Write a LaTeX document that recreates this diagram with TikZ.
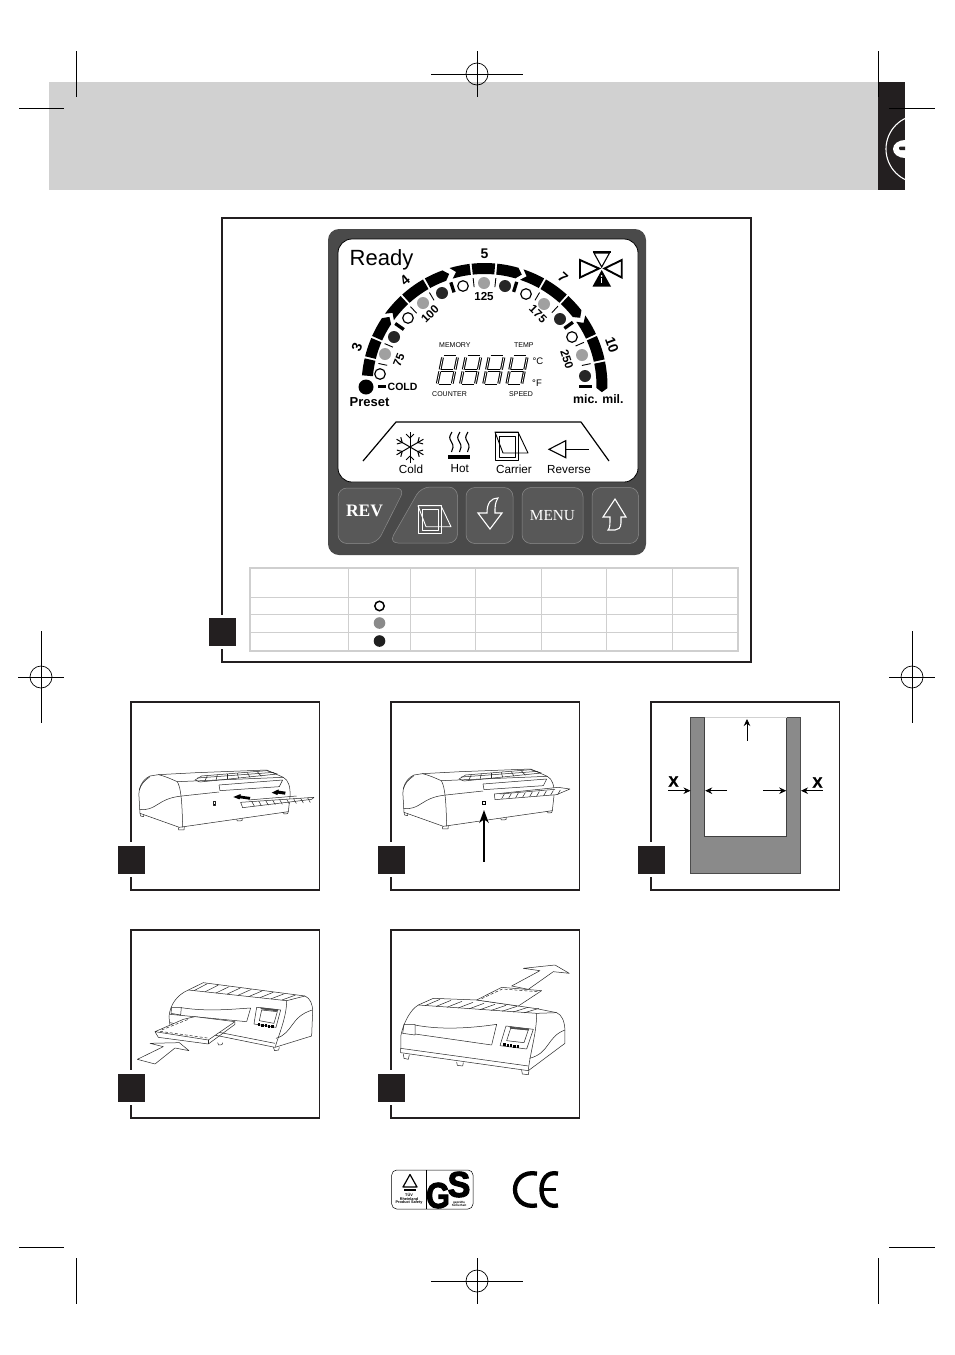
\documentclass[tikz,border=0pt]{standalone}
\usepackage{fontspec}
\setmainfont{Liberation Sans}
\newfontfamily\timesf{Liberation Serif}
\newfontfamily\fatf[FakeBold=1.5]{Liberation Sans Bold}
\newfontfamily\logof[FakeBold=3]{Liberation Sans Bold}
\usetikzlibrary{arrows.meta}
\definecolor{band}{HTML}{D1D1D1}
\definecolor{tabk}{HTML}{231F20}
\definecolor{panel}{HTML}{4A4A4A}
\definecolor{btn}{HTML}{585858}
\definecolor{btnl}{HTML}{8C8C8C}
\definecolor{dotg}{HTML}{A0A0A0}
\definecolor{tbl}{HTML}{CFCFCF}
\definecolor{cutg}{HTML}{8A8A8A}
\tikzset{
  crop/.style={line width=.7pt,black},
  frame/.style={line width=1.8pt,tabk},
  tag/.style={fill=tabk,draw=none},
  halo/.style={fill=white,draw=none},
  btnshape/.style={fill=btn,draw=btnl,line width=.5pt,rounded corners=9pt},
  lcd/.style={font=\fontsize{7}{8}\selectfont,inner sep=0pt},
  bold/.style={font=\bfseries\fontsize{#1}{#1}\selectfont,inner sep=0pt},
  reg/.style={font=\fontsize{#1}{#1}\selectfont,inner sep=0pt},
  seven/.style={line width=1.05pt,double=white,double distance=.7pt},
  pl/.style={line width=.5pt,black!85,line join=round},
  zoomed/.style={x=.3333pt,y=-.3333pt},
  dimarrow/.style={line width=.8pt,-{Stealth[length=7pt,width=6.5pt]}},
}
\newcommand\regmark[2]{%
  \draw[crop] (#1,#2) circle (11);
  \draw[crop] (#1-46,#2) -- (#1+46,#2);
  \draw[crop] (#1,#2-23) -- (#1,#2+23);}
\newcommand\regmarkv[2]{%
  \draw[crop] (#1,#2) circle (11);
  \draw[crop] (#1-23,#2) -- (#1+23,#2);
  \draw[crop] (#1,#2-46) -- (#1,#2+46);}
\newcommand\digit[1]{%
  \begin{scope}[shift={(#1,385)},xslant=.2]
    \draw[seven] (1.5,0) -- (13.5,0);
    \draw[seven] (1.5,-14.5) -- (13.5,-14.5);
    \draw[seven] (1.5,-29) -- (13.5,-29);
    \draw[seven] (0,-1.5) -- (0,-13.5);
    \draw[seven] (15,-1.5) -- (15,-13.5);
    \draw[seven] (0,-15.5) -- (0,-27.5);
    \draw[seven] (15,-15.5) -- (15,-27.5);
  \end{scope}}
\newcommand\carrier[1]{%
  \draw[line width=.9pt,#1,line join=round] (495,432) rectangle (518,460);
  \draw[line width=.9pt,#1,line join=round] (499,436) rectangle (515,457);
  \draw[line width=.9pt,#1,line join=round] (495,432) -- (518,432) -- (528,453) -- (503,453) -- cycle;}
\newcommand\bodyA{%
  \draw[pl,fill=white] (90,228) .. controls (65,240) and (55,265) .. (57,290) -- (60,340) -- (178,382) -- (505,335) -- (510,290) .. controls (512,260) and (505,240) .. (490,232) -- (440,210) -- (230,218) -- (115,224) -- cycle;
  \draw[pl] (115,224) .. controls (140,230) and (155,238) .. (172,245) -- (490,232);
  \draw[pl] (172,245) .. controls (183,265) and (186,300) .. (188,382);
  \draw[pl] (58,328) .. controls (110,335) and (110,295) .. (186,288) -- (297,276);
  \draw[pl] (90,230) .. controls (72,242) and (62,255) .. (58,270);
  \draw[pl] (225,240) -- (245,228) -- (440,212) -- (472,222) -- (240,246) -- cycle;
  \foreach \k in {0,1,...,5} \draw[pl] ({262+\k*30},{227-\k*2.4}) -- ({254+\k*34},{244-\k*3});
  \draw[pl] (232,234) -- (462,217);
  \draw[pl] (297,255) -- (300,272) -- (478,260) -- (488,240) -- cycle;
  \draw[pl] (60,340) -- (62,348) -- (70,350) -- (72,345);
  \draw[pl] (175,382) -- (176,390) -- (192,390) -- (193,380);
  \draw[pl] (350,358) -- (352,363) -- (366,362) -- (367,356);
  \draw[pl] (490,337) -- (492,342) -- (503,341) -- (505,335);}
\newcommand\ribs[6]{% x0,y0,dx,dy,n,len
  \foreach \k in {0,...,#5} \draw[pl] ({#1+\k*#3},{#2+\k*#4}) -- ++(8,#6);}
\begin{document}
\begin{tikzpicture}[x=1pt,y=-1pt]
\useasboundingbox (0,0) rectangle (954,1355);
\fill[white] (0,0) rectangle (954,1355);
% header band and tab
\fill[band] (49,82) rectangle (878,190);
\fill[tabk] (878,82) rectangle (905,190);
\begin{scope}
  \clip (878,82) rectangle (905,190);
  \draw[white,line width=1.1pt] (920,149) circle (34);
  \fill[white] (905,149) ellipse (12 and 9);
  \fill[tabk,rounded corners=1pt] (899,146.5) rectangle (906,150);
\end{scope}
% crop marks
\draw[crop] (76,51) -- (76,97);
\draw[crop] (19,108) -- (64,108);
\draw[crop] (878,51) -- (878,97);
\draw[crop] (889,108) -- (935,108);
\draw[crop] (19,1247) -- (64,1247);
\draw[crop] (76,1258) -- (76,1304);
\draw[crop] (889,1247) -- (935,1247);
\draw[crop] (878,1258) -- (878,1304);
\regmark{477}{74}
\regmark{477}{1281}
\regmarkv{41}{677}
\regmarkv{912}{677}
% main frame
\draw[frame] (222,218) rectangle (751,662);
\fill[halo] (205,615) rectangle (240,649);
\fill[tag] (209,618) rectangle (236,646);
% panel
\fill[panel,rounded corners=11pt] (328,229) rectangle (646,555);
\draw[fill=white,draw=black,line width=.8pt,rounded corners=14pt] (338,239) rectangle (638,482);
\node[reg=22,anchor=west] (ready) at (349.5,260) {Ready};
% hourglass
\draw[line width=2pt] (592.5,252) -- (611,252);
\draw[line width=1.1pt,fill=white] (594,253) -- (609.5,253) -- (601.7,267) -- cycle;
\fill (592.5,286.5) -- (611,286.5) -- (601.7,270) -- cycle;
\fill[white] (601.7,276) circle (1);
\draw[white,line width=.8pt] (601.7,278) -- (601.7,283);
\draw[line width=1.9pt,line join=miter] (580,260) -- (580,277.5) -- (599,268.5) -- cycle;
\draw[line width=1.9pt,line join=miter] (621.7,260) -- (621.7,277.5) -- (604.5,268.5) -- cycle;
% segmented arc: start angle / end angle / tip / notch
\foreach \sa/\sb/\se/\sn in {175/167/0/0,166/157/0/0,156/146.5/2.5/0,144/133/0/2.5,132/120/0/0,119/110/2.5/0,106.5/97/0/2.5,96/85/0/0,84/74/2.5/0,71.5/61/0/2.5,60/48/0/0,47/38/2.5/0,35/25/0/2.5,24/12.5/0/0,11.5/-1/2/0}{
  \fill plot[domain=\sa:\sb,samples=6] ({484.5+123*cos(\x)},{386-123*sin(\x)})
    -- ({484.5+117.5*cos(\sb-\se)},{386-117.5*sin(\sb-\se)})
    -- plot[domain=\sb:\sa,samples=6] ({484.5+112*cos(\x)},{386-112*sin(\x)})
    -- ({484.5+117.5*cos(\sa-\sn)},{386-117.5*sin(\sa-\sn)}) -- cycle;
}
% ticks
\foreach \a in {168,157,133,120.5,96,84,59.5,47.4,23.7,11.9}
  \draw[line width=.9pt] ({484.5+99.5*cos(\a)},{386-99.5*sin(\a)}) -- ({484.5+108.5*cos(\a)},{386-108.5*sin(\a)});
\foreach \a in {145,108,72.8,35.8}
  \draw[line width=3.3pt] ({484.5+98.5*cos(\a)},{386-98.5*sin(\a)}) -- ({484.5+109*cos(\a)},{386-109*sin(\a)});
\draw[line width=3.3pt] (378,386.7) -- (386,386.7);
\draw[line width=3.3pt] (579,386.7) -- (592,386.7);
% dots
\foreach \x/\y in {380/374,408/318,463/286,526/294,572/337}
  \draw[line width=1.2pt,fill=white] (\x,\y) circle (5.3);
\foreach \x/\y in {385/354,423/303,484/283,544/304,582/355}
  \fill[dotg] (\x,\y) circle (6);
\foreach \x/\y in {394/337,442/293,505/286,560/319,585/376}
  \fill[black!85] (\x,\y) circle (6);
\fill (366,387) circle (7.5);
% scale numerals
\node[bold=14,rotate=70] (n3) at (357,347) {3};
\node[bold=14,rotate=40] (n4) at (405,280) {4};
\node[bold=14] (n5) at (484.5,254) {5};
\node[bold=14,rotate=-42] (n7) at (563,278) {7};
\node[bold=14,rotate=-70] (n10) at (612,345) {10};
\node[bold=11.6] (t125) at (484,297) {125};
\node[bold=11.6,rotate=45] (t100) at (430,314) {100};
\node[bold=11.6,rotate=68] (t75) at (399,360) {75};
\node[bold=11.6,rotate=-45] (t175) at (538,314) {175};
\node[bold=11.6,rotate=-72] (t250) at (567,359) {250};
\node[bold=10.5,anchor=west] (cold) at (387.5,386.7) {COLD};
\node[bold=13,anchor=west] (preset) at (349.5,402) {Preset};
\node[bold=12.3,anchor=west] (micmil) at (573,399.5) {mic. mil.};
\node[lcd,anchor=west] (memory) at (439,345) {MEMORY};
\node[lcd,anchor=west] (temp) at (514,345) {TEMP};
\node[lcd,anchor=west] (counter) at (432,394.5) {COUNTER};
\node[lcd,anchor=west] (speed) at (509,394.5) {SPEED};
\node[reg=9.5] (degc) at (538,361) {°C};
\node[reg=9.5] (degf) at (537,383) {°F};
\digit{437}\digit{460.2}\digit{483.4}\digit{506.6}
% mode strip
\draw[line width=1.2pt,line join=round] (363,461) -- (396,422) -- (581,422) -- (609,461);
% snowflake
\foreach \a in {30,90,150,210,270,330}{
  \draw[line width=1pt] (410,447) -- ++({15.5*cos(\a)},{15.5*sin(\a)});
  \draw[line width=1pt] ({410+9*cos(\a)},{447+9*sin(\a)}) -- ++({5.5*cos(\a+45)},{5.5*sin(\a+45)});
  \draw[line width=1pt] ({410+9*cos(\a)},{447+9*sin(\a)}) -- ++({5.5*cos(\a-45)},{5.5*sin(\a-45)});
}
\node[reg=11.7] (lcold) at (411,469) {Cold};
% hot
\foreach \x in {452,460,468}
  \draw[line width=1.1pt] (\x,432) .. controls (\x-3,437) and (\x-3,438) .. (\x-.5,442) .. controls (\x+2,446) and (\x+1,449) .. (\x-.5,452);
\fill (448,455) rectangle (470,459);
\node[reg=11.7] (lhot) at (459.7,469) {Hot};
% carrier
\carrier{black}
\node[reg=11.7] (lcarrier) at (514,469) {Carrier};
% reverse arrow
\draw[line width=1.1pt,line join=miter] (549,449.3) -- (565.7,440.7) -- (565.7,457.7) -- cycle;
\draw[line width=1.1pt] (565.7,449.3) -- (589,449.3);
\node[reg=11.7] (lreverse) at (569,470) {Reverse};
% buttons
\draw[btnshape] (338,488) -- (405,488) -- (377,543.5) -- (338,543.5) -- cycle;
\node[font=\timesf\bfseries\fontsize{17.5}{17.5}\selectfont,text=white,inner sep=0pt] (rev) at (364.5,511) {REV};
\draw[btnshape] (421,487) -- (457.5,487) -- (457.5,543) -- (389,543) -- cycle;
\begin{scope}[shift={(-77,73.7)}]\carrier{white}\end{scope}
\draw[btnshape] (466,487.5) rectangle (513,543.5);
\draw[white,line width=1.1pt,line join=miter] (498,498) .. controls (491,498) and (487,503) .. (487,513) -- (478,513) -- (490,529) -- (502,513) -- (495,513) .. controls (495,506) and (495,503) .. (498,498) -- cycle;
\draw[btnshape] (522,487.5) rectangle (583,543.5);
\node[font=\timesf\fontsize{15.3}{15.3}\selectfont,text=white,inner sep=0pt] (menu) at (552.5,515.7) {MENU};
\draw[btnshape] (592,487.5) rectangle (638.5,543.5);
\draw[white,line width=1.1pt,line join=miter] (615,499) -- (626,517) -- (621,517) -- (621,523) .. controls (621,528) and (618,530) .. (615,530) -- (608,530) .. controls (610,528) and (610,525) .. (610,517) -- (603,517) -- cycle;
% table
\draw[tbl,line width=.9pt] (250,597) -- (738,597) (250,614) -- (738,614) (250,632) -- (738,632);
\foreach \x in {348,410,475.5,541,606.5,672} \draw[tbl,line width=.9pt] (\x,568) -- (\x,651);
\draw[tbl,line width=1.7pt] (250,568) rectangle (738,651);
\draw[line width=1.5pt,fill=white] (379.5,606) circle (4.7);
\fill[cutg] (379.5,623) circle (5.8);
\fill[black!88] (379.5,641) circle (5.8);
% small frames
\foreach \fx/\fy in {131/702,391/702,651/702,131/930,391/930}{
  \draw[frame] (\fx,\fy) rectangle (\fx+188.5,\fy+188);
  \fill[halo] (\fx-15,\fy+140) rectangle (\fx+16,\fy+175);
  \fill[tag] (\fx-13.5,\fy+144) rectangle (\fx+14,\fy+172);
}
% printer 1
\begin{scope}[shift={(120,700)},zoomed]
  \bodyA
  \draw[pl,fill=white] (362,307) -- (368,323) -- (575,298) -- (582,292) -- cycle;
  \ribs{395}{304}{21}{-1.3}{8}{14}
  \draw[pl] (385,300) -- (530,288);
  \draw[pl,fill=black,line width=.9pt] (279,304) rectangle (287,316);
  \fill[white] (281.5,307) rectangle (284.5,312);
  \fill (340,291) -- (362,282) -- (362,287) -- (391,291) -- (389,299) -- (361,295) -- (358,298) -- cycle;
  \fill (455,278) -- (476,268) -- (476,272) -- (497,275) -- (495,284) -- (474,281) -- (472,285) -- cycle;
\end{scope}
% printer 2
\begin{scope}[shift={(384,699)},zoomed]
  \bodyA
\end{scope}
\begin{scope}[shift={(380,700)},zoomed]
  \draw[pl,fill=white] (343,282) -- (345,299) -- (530,284) -- (570,267) -- (535,262) -- cycle;
  \ribs{365}{296}{21}{-1.5}{8}{-14}
  \draw[pl] (360,282) -- (525,268);
  \draw[line width=1pt,fill=white] (307,304) rectangle (316,313);
\end{scope}
\coordinate (a2tail) at (484,861.5);
\coordinate (a2head) at (484,810);
\draw[line width=1.6pt,-{Stealth[length=13pt,width=9.5pt]}] (a2tail) -- (a2head);
% sheet in pouch
\fill[cutg,draw=black!70,line width=.5pt] (690.7,717.7) rectangle (800.7,873.3);
\fill[white] (704.7,717.7) rectangle (786.7,836);
\draw[black!75,line width=.7pt] (704.7,717.7) -- (704.7,836) -- (786.7,836) -- (786.7,717.7);
\draw[band,line width=.6pt] (704.7,717.7) -- (786.7,717.7);
\coordinate (u0) at (747,740.7); \coordinate (u1) at (747,719);
\coordinate (l0) at (668.3,790.7); \coordinate (l1) at (690.5,790.7);
\coordinate (il0) at (727,790.7); \coordinate (il1) at (705.2,790.7);
\coordinate (ir0) at (763,790.7); \coordinate (ir1) at (786.2,790.7);
\coordinate (r0) at (822.7,790.7); \coordinate (r1) at (801,790.7);
\foreach \p/\q in {u0/u1,l0/l1,il0/il1,ir0/ir1,r0/r1}
  \draw[dimarrow] (\p) -- (\q);
\node[font=\fatf\fontsize{15}{15}\selectfont,inner sep=0pt] (xl) at (673.5,781.5) {X};
\node[font=\fatf\fontsize{15}{15}\selectfont,inner sep=0pt] (xr) at (817.5,782.5) {X};
% printer 4
\begin{scope}[shift={(120,930)},zoomed]
  \draw[pl,fill=white] (205,180) .. controls (170,195) and (150,225) .. (147,260) -- (150,288) -- (465,352) -- (575,318) -- (578,245) .. controls (578,220) and (570,205) .. (555,198) -- (250,158) -- cycle;
  \draw[pl] (205,180) -- (500,212) -- (555,198);
  \foreach \k in {0,...,8} \draw[pl] ({262+\k*33},{161+\k*4.3}) -- ({222+\k*33},{182+\k*3.5});
  \draw[pl] (155,232) -- (184,232) -- (182,255) -- (153,250) -- cycle;
  \draw[pl] (184,233) .. controls (260,245) and (330,238) .. (392,234) -- (380,275);
  \draw[pl] (150,253) -- (380,275);
  \draw[pl] (150,278) -- (465,340);
  \draw[pl] (500,212) .. controls (500,260) and (478,310) .. (466,350);
  \draw[pl] (468,325) .. controls (520,310) and (510,260) .. (577,240);
  \draw[pl] (410,232) -- (482,240) -- (468,292) -- (402,282) -- cycle;
  \draw[pl] (425,240) -- (472,245) -- (462,280) -- (418,272) -- cycle;
  \fill[black!70] (420,232) -- (475,238) -- (473,244) -- (424,238) -- cycle;
  \foreach \k in {0,...,4} \fill ({414+\k*10},{279+\k*1.5}) rectangle ++(7,9);
  \draw[pl] (460,352) -- (464,362) -- (476,360) -- (478,352);
  \draw[pl] (293,338) -- (296,345) -- (306,344) -- (308,338);
  \draw[pl,fill=white] (105,305) -- (190,268) -- (225,260) -- (345,275) -- (265,330) -- cycle;
  \draw[pl] (105,305) -- (115,322) -- (265,342) -- (345,283) -- (345,275);
  \draw[pl] (265,330) -- (265,342);
  \draw[pl,densely dashed] (120,304) -- (262,324);
  \draw[pl,densely dashed] (125,300) -- (205,268);
  \draw[pl,fill=white] (52,388) -- (130,350) -- (90,340) -- (178,338) -- (207,362) -- (165,354) -- (105,402) -- cycle;
\end{scope}
% printer 5
\begin{scope}[shift={(380,930)},zoomed]
  \draw[pl,fill=white] (115,225) .. controls (90,240) and (70,280) .. (63,315) -- (62,368) -- (445,422) -- (555,340) -- (555,300) .. controls (553,270) and (545,255) .. (530,248) -- (470,236) -- (290,210) -- (160,205) -- cycle;
  \draw[pl] (115,225) -- (470,250) -- (530,248);
  \foreach \k in {0,...,9} \draw[pl] ({180+\k*33},{208+\k*3}) -- ({135+\k*33},{227+\k*2.4});
  \draw[pl] (72,283) -- (105,283) -- (105,315) -- (68,310) -- cycle;
  \draw[pl] (105,285) .. controls (180,300) and (270,295) .. (350,283) -- (335,345);
  \draw[pl] (105,312) -- (335,345);
  \draw[pl] (62,355) -- (445,408);
  \draw[pl] (470,250) .. controls (470,310) and (452,360) .. (445,420);
  \draw[pl] (448,385) .. controls (510,370) and (500,320) .. (555,300);
  \draw[pl] (378,288) -- (460,298) -- (440,357) -- (360,347) -- cycle;
  \draw[pl] (392,295) -- (445,300) -- (432,338) -- (380,332) -- cycle;
  \fill[black!70] (388,290) -- (448,296) -- (446,301) -- (392,296) -- cycle;
  \foreach \k in {0,...,4} \fill ({370+\k*10},{339+\k*1.5}) rectangle ++(7,9);
  \draw[pl] (70,372) -- (72,385) -- (85,388) -- (88,374);
  \draw[pl] (230,396) -- (232,406) -- (248,408) -- (250,398);
  \draw[pl] (425,420) -- (427,432) -- (445,434) -- (447,422);
  \draw[pl,fill=white] (290,210) -- (365,172) -- (485,182) -- (415,228) -- cycle;
  \draw[pl,densely dashed] (305,206) -- (367,177) -- (472,185);
  \draw[pl,fill=white] (395,168) -- (480,122) -- (430,115) -- (525,105) -- (568,130) -- (520,125) -- (445,178) -- cycle;
\end{scope}
% logos
\draw[line width=.5pt,rounded corners=5pt] (391.7,1170) rectangle (473,1209);
\draw[line width=.4pt] (426,1170) -- (426,1209);
\draw[line width=1.2pt,line join=round] (410,1174.5) -- (403,1187) -- (417,1187) -- cycle;
\fill (404,1189) rectangle (416,1190.5);
\node[bold=3.8,align=center] (tuv) at (409,1199) {TÜV\\[-.3pt]Rheinland\\[-.3pt]Product Safety};
\node[font=\logof\fontsize{36}{36}\selectfont,inner sep=0pt,xscale=.85] (gsg) at (438,1195.5) {G};
\node[font=\logof\fontsize{36}{36}\selectfont,inner sep=0pt,xscale=.95] (gss) at (459,1184.5) {S};
\node[bold=3,align=center] (geprueft) at (459,1203.5) {geprüfte\\Sicherheit};
\draw[line width=4.3pt] (537,1173.6) .. controls (523,1171) and (515,1180) .. (515,1189.5) .. controls (515,1199) and (523,1208) .. (537,1205.4);
\draw[line width=4.3pt] (558,1173.6) .. controls (547,1171) and (541.5,1180) .. (541.5,1189.5) .. controls (541.5,1199) and (547,1208) .. (558,1205.4);
\draw[line width=3.6pt] (541.5,1189.5) -- (556,1189.5);
\end{tikzpicture}
\end{document}
